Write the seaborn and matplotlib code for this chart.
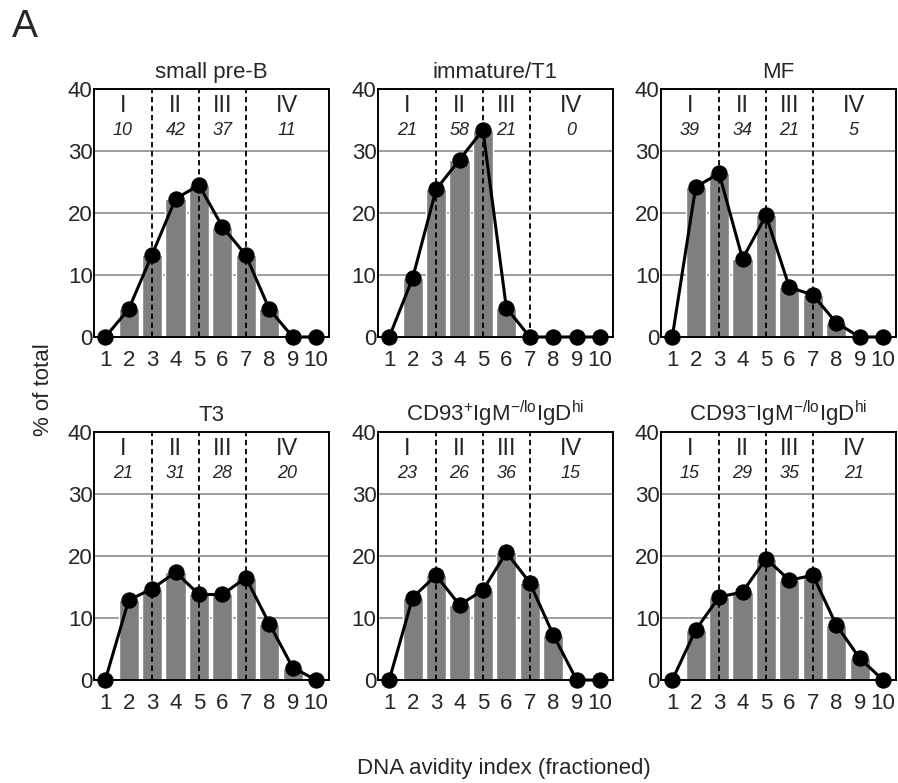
import matplotlib as mpl
import matplotlib.pyplot as plt
import seaborn as sns
import pandas as pd
import numpy as np

# DNA avidity index bins
bins = [1, 2, 3, 4, 5, 6, 7, 8, 9, 10]

# % of total per bin for each population
small_pre_b = [0, 4.5, 13.3, 22.3, 24.5, 17.8, 13.2, 4.5, 0, 0]
immature_t1 = [0, 9.5, 23.8, 28.6, 33.4, 4.7, 0, 0, 0, 0]
mf = [0, 24.2, 26.4, 12.6, 19.6, 8.0, 6.8, 2.3, 0, 0]
t3 = [0, 12.9, 14.7, 17.4, 13.8, 13.8, 16.5, 9.1, 2.0, 0]
cd93_pos = [0, 13.3, 16.9, 12.1, 14.5, 20.6, 15.7, 7.3, 0, 0]
cd93_neg = [0, 8.1, 13.4, 14.2, 19.6, 16.1, 16.9, 8.9, 3.5, 0]

titles = ["small pre-B", "immature/T1", "MF", "T3",
          "CD93$^{+}$IgM$^{-/lo}$IgD$^{hi}$",
          "CD93$^{-}$IgM$^{-/lo}$IgD$^{hi}$"]

# fraction summaries (regions I-IV)
regions = ["I", "II", "III", "IV"]
region_pct = [
    ["10", "42", "37", "11"],
    ["21", "58", "21", "0"],
    ["39", "34", "21", "5"],
    ["21", "31", "28", "20"],
    ["23", "26", "36", "15"],
    ["15", "29", "35", "21"],
]
region_bounds = [3, 5, 7]

series = [small_pre_b, immature_t1, mf, t3, cd93_pos, cd93_neg]

sns.set_style("white")
plt.rcParams['font.family'] = ['Liberation Sans', 'DejaVu Sans']
plt.rcParams['mathtext.default'] = 'regular'

fig = plt.figure(figsize=(8.98, 7.83), dpi=100)

lefts = [0.1047, 0.4209, 0.7361]
bottoms = [0.5696, 0.1315]
w, h = 0.2617, 0.3167

region_x = [1.75, 4, 6, 8.75]

for i, vals in enumerate(series):
    row, col = divmod(i, 3)
    ax = fig.add_axes([lefts[col], bottoms[row], w, h])
    df = pd.DataFrame({"bin": bins, "pct": vals})

    for g in [10, 20, 30]:
        ax.axhline(g, color='#8c8c8c', lw=1.2, zorder=0)

    sns.barplot(data=df, x="bin", y="pct", native_scale=True, width=0.86,
                color='#7f7f7f', saturation=1, ax=ax, zorder=1)
    for b in region_bounds:
        ax.axvline(b, color='black', ls=(0, (3, 2)), lw=1.3, zorder=2)
    sns.lineplot(data=df, x="bin", y="pct", color='black', lw=2.2,
                 marker='o', markersize=11, markeredgecolor='black',
                 ax=ax, zorder=3, clip_on=False)

    for rx, r, p in zip(region_x, regions, region_pct[i]):
        ax.text(rx, 37.2, r, ha='center', va='center', fontsize=17)
        ax.text(rx, 33.3, p, ha='center', va='center', fontsize=13,
                style='italic')

    ax.set_xlim(0.52, 10.55)
    ax.set_ylim(0, 40)
    ax.set_xticks(bins)
    ax.set_yticks([0, 10, 20, 30, 40])
    ax.tick_params(axis='both', length=0, labelsize=16)
    ax.tick_params(axis='x', pad=9)
    ax.tick_params(axis='y', pad=1)
    ax.set_xlabel("")
    ax.set_ylabel("")
    ax.set_title(titles[i], fontsize=16, pad=8)
    for s in ax.spines.values():
        s.set_color('black')
        s.set_linewidth(1.4)

fig.text(0.013, 0.965, "A", fontsize=28, ha='left', va='center')
fig.text(0.048, 0.502, "% of total", rotation=90, fontsize=16,
         ha='center', va='center')
fig.text(0.561, 0.019, "DNA avidity index (fractioned)", fontsize=16,
         ha='center', va='center')

plt.savefig("out.png", dpi=100)
